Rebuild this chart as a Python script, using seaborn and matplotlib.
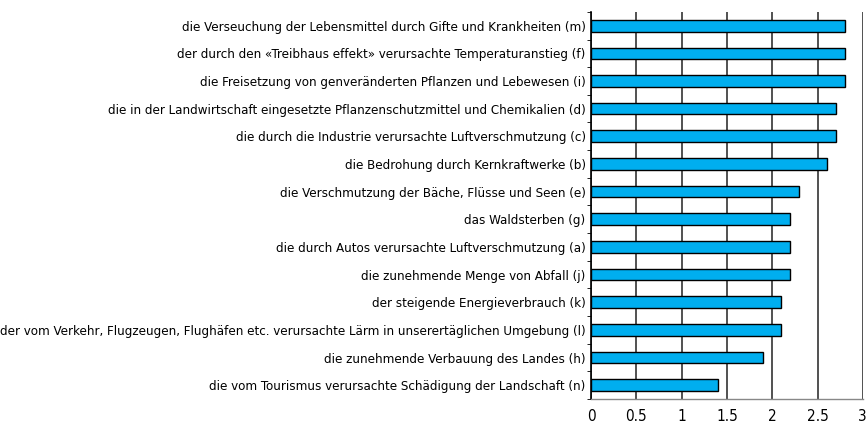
import numpy as np
import pandas as pd
import matplotlib
matplotlib.use("Agg")
import matplotlib.pyplot as plt
import seaborn as sns

labels = [
    "die Verseuchung der Lebensmittel durch Gifte und Krankheiten (m)",
    "der durch den «Treibhaus effekt» verursachte Temperaturanstieg (f)",
    "die Freisetzung von genveränderten Pflanzen und Lebewesen (i)",
    "die in der Landwirtschaft eingesetzte Pflanzenschutzmittel und Chemikalien (d)",
    "die durch die Industrie verursachte Luftverschmutzung (c)",
    "die Bedrohung durch Kernkraftwerke (b)",
    "die Verschmutzung der Bäche, Flüsse und Seen (e)",
    "das Waldsterben (g)",
    "die durch Autos verursachte Luftverschmutzung (a)",
    "die zunehmende Menge von Abfall (j)",
    "der steigende Energieverbrauch (k)",
    "der vom Verkehr, Flugzeugen, Flughäfen etc. verursachte Lärm in unserertäglichen Umgebung (l)",
    "die zunehmende Verbauung des Landes (h)",
    "die vom Tourismus verursachte Schädigung der Landschaft (n)",
]
values = [2.8, 2.8, 2.8, 2.7, 2.7, 2.6, 2.3, 2.2, 2.2, 2.2, 2.1, 2.1, 1.9, 1.4]
xticks = [0, 0.5, 1, 1.5, 2, 2.5, 3]

sns.set_style("white")
plt.rcParams['font.family'] = ['DejaVu Sans']
plt.rcParams['font.stretch'] = 'condensed'
plt.rcParams['text.color'] = 'black'
plt.rcParams['xtick.color'] = 'black'
plt.rcParams['ytick.color'] = 'black'

df = pd.DataFrame({"label": labels, "value": values})

fig = plt.figure(figsize=(8.68, 4.24), dpi=100)
ax = fig.add_axes([0.681, 0.059, 0.313, 0.913])

sns.barplot(data=df, y="label", x="value", orient="h", color="#00AEEF",
            edgecolor="black", linewidth=1, width=0.42, saturation=1, ax=ax, zorder=3)

ax.set_xlim(0, 3)
ax.set_ylim(len(labels) - 0.5, -0.5)
ax.set_xticks(xticks)
ax.set_xticklabels(["0", "0.5", "1", "1.5", "2", "2.5", "3"], fontsize=11)
ax.tick_params(axis="y", length=0, labelsize=9.5, pad=4)
ax.tick_params(axis="x", length=3, color="#555555", pad=4)
ax.set_yticks(np.arange(-0.5, len(labels), 1), minor=True)
ax.tick_params(axis="y", which="minor", length=3, color="black", left=True)
ax.xaxis.grid(True, color="#333333", linewidth=1.2, zorder=0)
ax.set_xlabel("")
ax.set_ylabel("")

for s in ["top", "right"]:
    ax.spines[s].set_visible(False)
ax.spines["left"].set_color("black")
ax.spines["left"].set_linewidth(1.2)
ax.spines["bottom"].set_color("#888888")
ax.spines["bottom"].set_linewidth(1)

fig.savefig("out.png", dpi=100)
